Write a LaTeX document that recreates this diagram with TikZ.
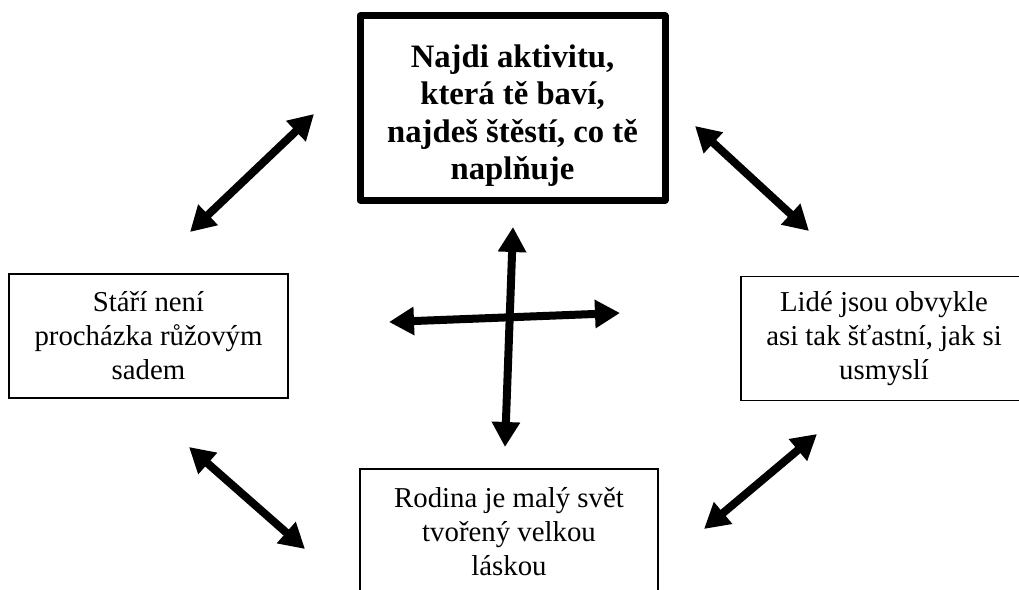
\documentclass[tikz,border=0pt]{standalone}
\usepackage{fontspec}
\setmainfont{Liberation Serif}
\usetikzlibrary{arrows.meta}

\tikzset{
  mainbox/.style={draw,line width=7bp,line join=round,minimum width=305bp,minimum height=184bp,align=center,inner sep=0pt,font=\bfseries\fontsize{32.7bp}{37.5bp}\selectfont},
  thoughtbox/.style={draw,line width=1.2bp,minimum width=279bp,minimum height=124bp,align=center,inner sep=0pt,font=\fontsize{28.8bp}{34bp}\selectfont},
  link/.style={{Triangle[length=25bp,width=27bp]}-{Triangle[length=25bp,width=27bp]},line width=8bp}
}

\begin{document}
\begin{tikzpicture}[x=1bp,y=-1bp]
\useasboundingbox (0,0) rectangle (1019,590);
\clip (0,0) rectangle (1019,590);

% Node: top
\node[mainbox] (top) at (512.5,108) {\rule{0pt}{38bp}Najdi aktivitu,\\ která tě baví,\\ najdeš štěstí, co tě\\ naplňuje};

% Node: left
\node[thoughtbox] (left) at (148.5,336) {Stáří není\\ procházka růžovým\\ sadem};

% Node: right
\node[thoughtbox,minimum width=286bp] (right) at (884,338.5) {Lidé jsou obvykle\\ asi tak šťastní, jak si\\ usmyslí};

% Node: bottom
\node[thoughtbox,minimum width=298bp,minimum height=125bp] (bottom) at (509,531.5) {Rodina je malý svět\\ tvořený velkou\\ láskou};

% arrow ends
\coordinate (tl1) at (190,232);
\coordinate (tl2) at (314,114);
\coordinate (tr1) at (695,126);
\coordinate (tr2) at (809,231);
\coordinate (bl1) at (189,447);
\coordinate (bl2) at (305,549);
\coordinate (br1) at (817,434);
\coordinate (br2) at (704,529);
\coordinate (cn) at (513,227);
\coordinate (cs) at (505,447);
\coordinate (cw) at (389,322);
\coordinate (ce) at (620,313);

% Edge: left <-> top
\draw[link] (tl1) -- (tl2);
% Edge: top <-> right
\draw[link] (tr1) -- (tr2);
% Edge: left <-> bottom
\draw[link] (bl1) -- (bl2);
% Edge: right <-> bottom
\draw[link] (br1) -- (br2);
% Edge: cross
\draw[link] (cn) -- (cs);
\draw[link] (cw) -- (ce);
\end{tikzpicture}
\end{document}
